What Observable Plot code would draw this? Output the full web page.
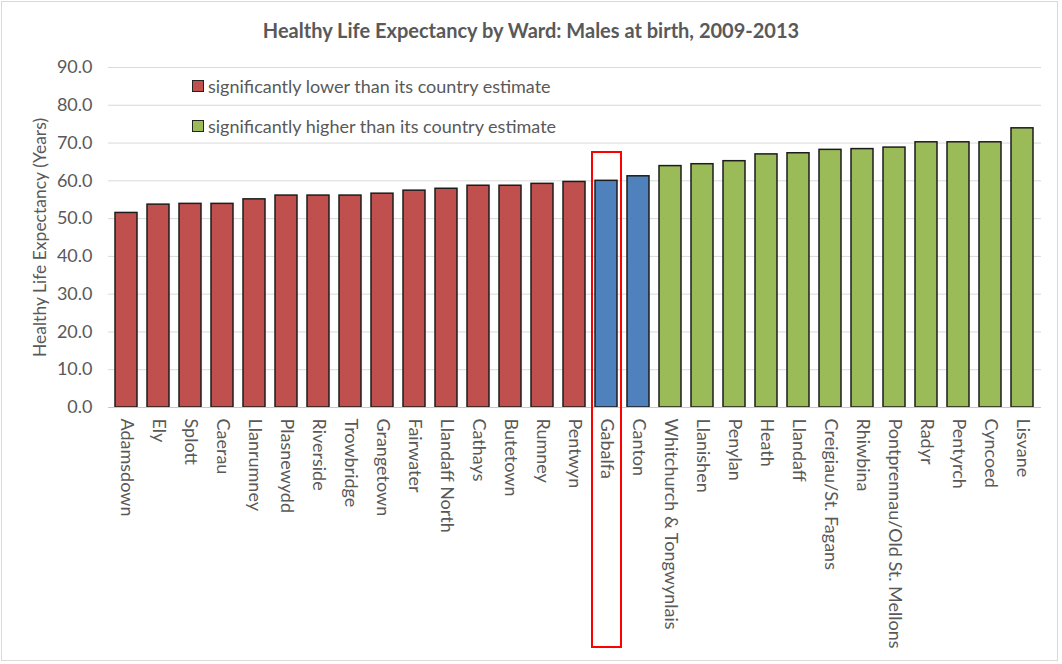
<!DOCTYPE html>
<html><head><meta charset="utf-8">
<script src="https://cdn.jsdelivr.net/npm/d3@7"></script>
<script src="https://cdn.jsdelivr.net/npm/@observablehq/plot@0.6"></script>
<style>
body{margin:0;background:#fff;font-family:Lato,sans-serif;}
#wrap{position:relative;width:1062px;height:664px;overflow:hidden;background:#fff;}
#frame{position:absolute;left:1px;top:1px;width:1055px;height:658px;border:1px solid #d9d9d9;box-sizing:content-box;}
#title{position:absolute;top:18px;left:0;width:1062px;text-align:center;font-weight:bold;font-size:20px;color:#595959;}
#legend{position:absolute;left:192px;top:73px;font-size:18px;color:#595959;}
.item{display:flex;align-items:center;height:26px;margin-bottom:14px;white-space:nowrap;}
.sw{width:10px;height:10px;border:1.5px solid #222;margin-right:4px;}
#plot{position:absolute;left:0;top:0;}
#hl{position:absolute;border:2px solid #ff0000;box-sizing:border-box;}
</style>
</head><body>
<div id="wrap">
  <div id="frame"></div>
  <div id="plot"></div>
  <div id="title">Healthy Life Expectancy by Ward: Males at birth, 2009-2013</div>
  <div id="legend"></div>
</div>
<script>
const wards = ["Adamsdown","Ely","Splott","Caerau","Llanrumney","Plasnewydd","Riverside","Trowbridge","Grangetown","Fairwater","Llandaff North","Cathays","Butetown","Rumney","Pentwyn","Gabalfa","Canton","Whitchurch & Tongwynlais","Llanishen","Penylan","Heath","Llandaff","Creigiau/St. Fagans","Rhiwbina","Pontprennau/Old St. Mellons","Radyr","Pentyrch","Cyncoed","Lisvane"];
const values = [51.5,53.7,53.9,53.9,55.1,56.1,56.1,56.1,56.6,57.4,57.9,58.7,58.7,59.2,59.7,60.0,61.2,63.9,64.4,65.2,67.0,67.3,68.2,68.4,68.8,70.2,70.2,70.2,73.9];
const statuses = ["lower","lower","lower","lower","lower","lower","lower","lower","lower","lower","lower","lower","lower","lower","lower","similar","similar","higher","higher","higher","higher","higher","higher","higher","higher","higher","higher","higher","higher"];
const statusDomain = ["lower","similar","higher"];
const statusColors = ["#C0504D","#4F81BD","#9BBB59"];
const legendLabels = ["significantly lower than its country estimate","significantly higher than its country estimate"];
const legendKeys = ["lower","higher"];
const yTicks = [0,10,20,30,40,50,60,70,80,90];
const highlightWard = "Gabalfa";

const data = wards.map((w,i)=>({ward:w, value:values[i], status:statuses[i]}));
const padIn = 0.3;

const plot = Plot.plot({
  width:1062, height:664,
  marginTop:67, marginBottom:257, marginLeft:108, marginRight:21,
  style:{fontFamily:"Lato, sans-serif", color:"#595959", background:"transparent", overflow:"visible"},
  x:{domain:wards, paddingInner:padIn, paddingOuter:0.15, label:null},
  y:{domain:[0,90]},
  color:{domain:statusDomain, range:statusColors},
  marks:[
    Plot.gridY(yTicks, {stroke:"#d9d9d9", strokeOpacity:1}),
    Plot.barY(data, {x:"ward", y:"value", fill:"status", stroke:"#1c1c1c", strokeWidth:1.5}),
    Plot.ruleY([0], {stroke:"#c8c8c8", strokeWidth:1.2}),
    Plot.axisY(yTicks, {tickSize:0, tickPadding:16, tickFormat:d=>d.toFixed(1), fontSize:18, label:null}),
    Plot.axisY({label:"Healthy Life Expectancy (Years)", labelAnchor:"center", labelOffset:75, labelArrow:"none", fontSize:17.5, ticks:[], tickSize:0}),
    Plot.axisX({tickSize:0, tickPadding:11, tickRotate:90, fontSize:18, label:null})
  ]
});
document.getElementById("plot").appendChild(plot);

// legend
const lg = document.getElementById("legend");
legendKeys.forEach((k,i)=>{
  const it = document.createElement("div"); it.className="item";
  const sw = document.createElement("div"); sw.className="sw";
  sw.style.background = statusColors[statusDomain.indexOf(k)];
  const tx = document.createElement("span"); tx.textContent = legendLabels[i];
  it.appendChild(sw); it.appendChild(tx); lg.appendChild(it);
});

// highlight box around Gabalfa, positioned from the x scale
const xs = plot.scale("x");
const step = xs.bandwidth/(1-padIn);
const cx = xs.apply(highlightWard) + xs.bandwidth/2;
const hl = document.createElement("div"); hl.id="hl";
hl.style.left = (cx - step/2 + 1) + "px";
hl.style.width = (step - 1) + "px";
hl.style.top = "151px";
hl.style.height = "497px";
document.getElementById("wrap").appendChild(hl);
</script>
</body></html>
